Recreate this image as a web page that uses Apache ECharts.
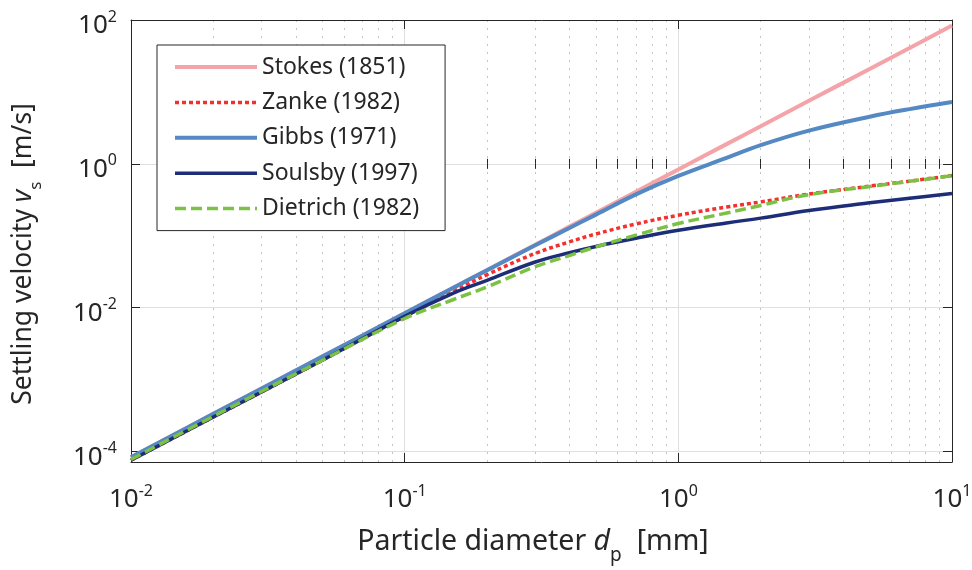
<!DOCTYPE html>
<html>
<head>
<meta charset="utf-8">
<script src="https://cdn.jsdelivr.net/npm/echarts@6/dist/echarts.min.js"></script>
<style>
html,body{margin:0;padding:0;background:#fff;}
#chart{width:972px;height:570px;}
</style>
</head>
<body>
<div id="chart"></div>
<script>
// ---- data (d in mm, v in m/s) ----
const diameters = [0.01, 0.02, 0.05, 0.1, 0.15, 0.2, 0.3, 0.4, 0.5, 0.7, 1, 1.5, 2, 3, 5, 7, 10];
const stokes   = [8.36e-5, 3.34e-4, 2.09e-3, 8.36e-3, 0.0188, 0.0334, 0.0752, 0.134, 0.209, 0.409, 0.836, 1.88, 3.34, 7.52, 20.9, 40.9, 83.6];
const zanke    = [7.59e-5, 3.02e-4, 1.86e-3, 7.59e-3, 0.0166, 0.0288, 0.0569, 0.0822, 0.106, 0.146, 0.193, 0.251, 0.296, 0.380, 0.490, 0.575, 0.687];
const gibbs    = [8.36e-5, 3.34e-4, 2.09e-3, 8.36e-3, 0.0188, 0.0332, 0.0738, 0.128, 0.197, 0.376, 0.679, 1.21, 1.82, 2.90, 4.52, 5.77, 7.23];
const soulsby  = [7.59e-5, 3.02e-4, 1.86e-3, 7.59e-3, 0.0158, 0.0240, 0.0432, 0.0582, 0.0711, 0.0923, 0.119, 0.151, 0.176, 0.225, 0.287, 0.333, 0.388];
const dietrich = [7.76e-5, 3.09e-4, 1.86e-3, 7.08e-3, 0.0129, 0.0195, 0.0372, 0.0531, 0.0700, 0.102, 0.148, 0.207, 0.264, 0.373, 0.484, 0.571, 0.684];
const seriesNames = ['Stokes (1851)', 'Zanke (1982)', 'Gibbs (1971)', 'Soulsby (1997)', 'Dietrich (1982)'];
const xMajorExp = [-2, -1, 0, 1];
const yMajorExp = [-4, -2, 0, 2];
const minorMultipliers = [2, 3, 4, 5, 6, 7, 8, 9];
const xRange = [0.01, 10];
const yRange = [7.16e-5, 100];

// ---- styles ----
const FONT = '"Noto Sans", "DejaVu Sans", sans-serif';
const TXT = '#262626';
const AX = '#262626';
const L = Math.log10;

const seriesValues = [stokes, zanke, gibbs, soulsby, dietrich];
const seriesStyles = [
  {color: '#f4a3a8', width: 4, type: 'solid'},
  {color: '#f2302e', width: 3.5, type: [4, 3]},
  {color: '#5489c4', width: 4, type: 'solid'},
  {color: '#1d2d78', width: 3.5, type: 'solid'},
  {color: '#7bc143', width: 3.5, type: [11, 5]}
];

const toPts = arr => diameters.map((d, i) => [L(d), L(arr[i])]);
const xMinor = [];
for (let k = xMajorExp[0]; k < xMajorExp[xMajorExp.length - 1]; k++) {
  for (const m of minorMultipliers) xMinor.push(k + L(m));
}

const tickRich = {
  b: {fontSize: 26, lineHeight: 34, fontFamily: FONT, color: TXT},
  sup: {fontSize: 16, lineHeight: 14, verticalAlign: 'top', fontFamily: FONT, color: TXT}
};
const fmt = v => '{b|10}{sup|' + Math.round(v) + '}';

function nameRich(size) {
  return {
    n: {fontSize: size, lineHeight: size + 5, verticalAlign: 'top', fontFamily: FONT, color: TXT},
    i: {fontSize: size, lineHeight: size + 5, verticalAlign: 'top', fontStyle: 'italic', fontFamily: FONT, color: TXT},
    sub: {fontSize: Math.round(size * 0.66), lineHeight: size * 2, fontFamily: FONT, color: TXT}
  };
}

const xMin = L(xRange[0]), xMax = L(xRange[1]);
const yMin = L(yRange[0]), yMax = L(yRange[1]);

const chart = echarts.init(document.getElementById('chart'), null, {renderer: 'canvas'});
chart.setOption({
  animation: false,
  backgroundColor: '#ffffff',
  grid: {left: 131, right: 20, top: 20, bottom: 108, containLabel: false, outerBoundsMode: 'none'},
  legend: {
    orient: 'vertical', left: 157, top: 45,
    padding: [10, 26, 10, 16],
    itemGap: 11.4, itemWidth: 82, itemHeight: 2,
    backgroundColor: '#ffffff', borderColor: AX, borderWidth: 1, borderRadius: 0,
    textStyle: {fontSize: 23, lineHeight: 24, color: TXT, fontFamily: FONT},
    itemStyle: {opacity: 0},
    data: seriesNames.map((name, i) => ({
      name: name,
      itemStyle: {opacity: 0},
      lineStyle: {color: seriesStyles[i].color, width: seriesStyles[i].width, type: seriesStyles[i].type, cap: 'butt'}
    })),
    selectedMode: false
  },
  xAxis: [
    {
      type: 'value', position: 'bottom', min: xMin, max: xMax,
      name: '{n|Particle diameter }{i|d}{sub|p}{n|  [mm]}',
      nameLocation: 'middle', nameGap: 65,
      nameTextStyle: {rich: nameRich(28.5), padding: [0, 17, 0, 0]},
      axisLine: {show: true, onZero: false, lineStyle: {color: AX, width: 1}},
      axisTick: {show: true, inside: true, length: 9, customValues: xMajorExp, lineStyle: {color: AX, width: 1}},
      axisLabel: {show: true, customValues: xMajorExp, formatter: fmt, rich: tickRich, margin: 21},
      splitLine: {show: true, lineStyle: {color: '#dfdfdf', width: 1}}
    },
    {
      type: 'value', position: 'bottom', min: xMin, max: xMax,
      axisLine: {show: false},
      axisTick: {show: true, inside: true, length: 5, customValues: xMinor, lineStyle: {color: AX, width: 1}},
      axisLabel: {show: false},
      splitLine: {show: true, lineStyle: {color: '#c4c4c4', width: 1, type: [2, 6]}}
    },
    {
      type: 'value', position: 'top', min: xMin, max: xMax,
      axisLine: {show: true, onZero: false, lineStyle: {color: AX, width: 1}},
      axisTick: {show: true, inside: true, length: 9, customValues: xMajorExp, lineStyle: {color: AX, width: 1}},
      axisLabel: {show: false},
      splitLine: {show: false}
    },
    {
      type: 'value', position: 'top', min: xMin, max: xMax,
      axisLine: {show: false},
      axisTick: {show: true, inside: true, length: 5, customValues: xMinor, lineStyle: {color: AX, width: 1}},
      axisLabel: {show: false},
      splitLine: {show: false}
    }
  ],
  yAxis: [
    {
      type: 'value', position: 'left', min: yMin, max: yMax,
      name: '{n|Settling velocity }{i|v}{sub|s}{n|  [m/s]}',
      nameLocation: 'middle', nameGap: 68,
      nameTextStyle: {rich: nameRich(26.5), padding: [0, 26, 0, 0]},
      axisLine: {show: true, onZero: false, lineStyle: {color: AX, width: 1}},
      axisTick: {show: true, inside: true, length: 9, customValues: yMajorExp, lineStyle: {color: AX, width: 1}},
      axisLabel: {show: true, customValues: yMajorExp, formatter: fmt, rich: tickRich, margin: 14, padding: [12, 0, 0, 0]},
      splitLine: {show: true, lineStyle: {color: '#dfdfdf', width: 1}}
    },
    {
      type: 'value', position: 'right', min: yMin, max: yMax,
      axisLine: {show: true, onZero: false, lineStyle: {color: AX, width: 1}},
      axisTick: {show: true, inside: true, length: 9, customValues: yMajorExp, lineStyle: {color: AX, width: 1}},
      axisLabel: {show: false},
      splitLine: {show: false}
    }
  ],
  series: seriesNames.map((name, i) => ({
    name: name,
    type: 'line',
    xAxisIndex: 0, yAxisIndex: 0,
    data: toPts(seriesValues[i]),
    symbol: 'none', showSymbol: false,
    smooth: 0.4,
    silent: true,
    itemStyle: {color: seriesStyles[i].color},
    lineStyle: {color: seriesStyles[i].color, width: seriesStyles[i].width, type: seriesStyles[i].type, cap: 'butt'}
  }))
});
</script>
</body>
</html>
